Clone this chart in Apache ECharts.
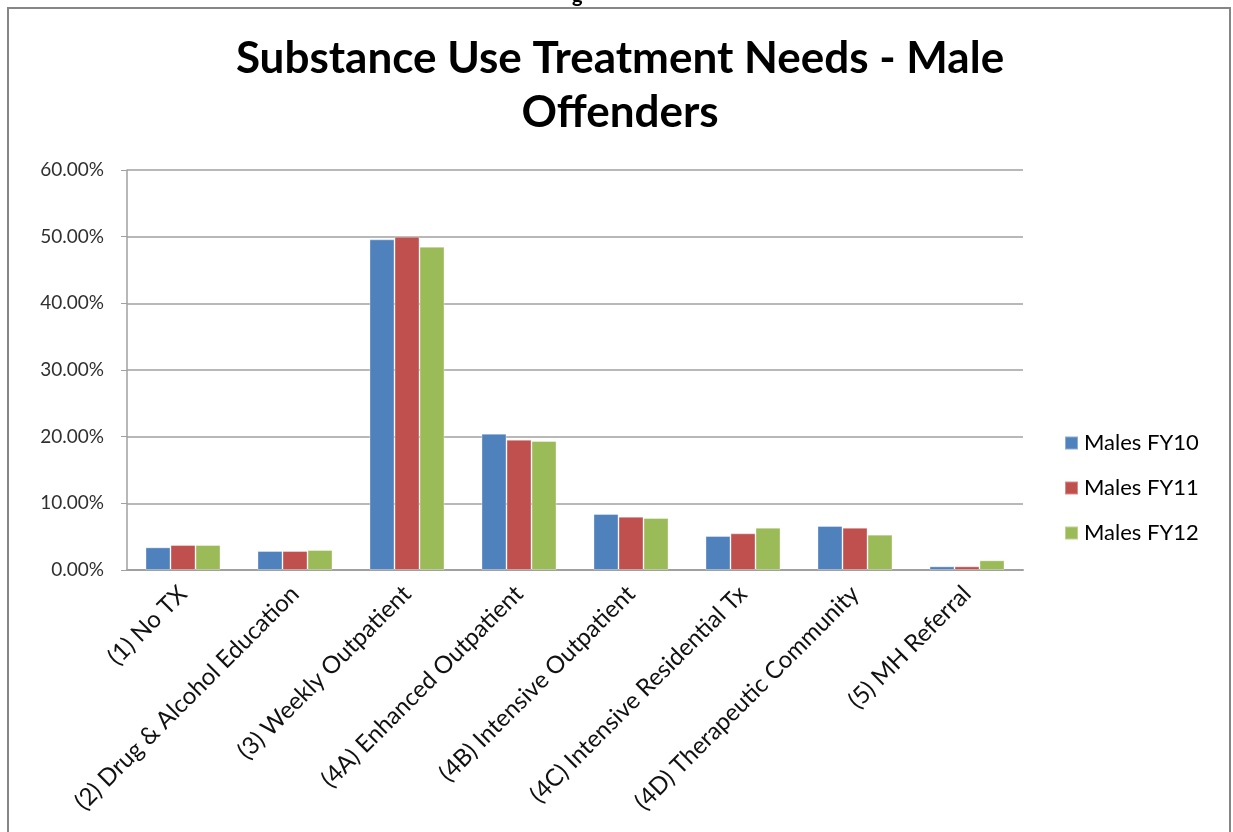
<!DOCTYPE html>
<html>
<head>
<meta charset="utf-8">
<script src="https://cdn.jsdelivr.net/npm/echarts@6/dist/echarts.min.js"></script>
<style>
  html, body { margin: 0; padding: 0; background: #fff; }
  #chart { width: 1233px; height: 832px; }
</style>
</head>
<body>
<div id="chart"></div>
<script>
// Treatment need categories
const categories = [
  '(1) No TX',
  '(2) Drug & Alcohol Education',
  '(3) Weekly Outpatient',
  '(4A) Enhanced Outpatient',
  '(4B) Intensive Outpatient',
  '(4C) Intensive Residential Tx',
  '(4D) Therapeutic Community',
  '(5) MH Referral'
];

// Share of male offenders per need level (percent)
const malesFY10 = [3.4, 2.85, 49.6, 20.45, 8.4, 5.1, 6.6, 0.55];
const malesFY11 = [3.75, 2.85, 50.0, 19.55, 8.0, 5.5, 6.35, 0.55];
const malesFY12 = [3.75, 3.0, 48.5, 19.35, 7.8, 6.35, 5.3, 1.45];

const seriesNames = ['Males FY10', 'Males FY11', 'Males FY12'];
const seriesColors = ['#4F81BD', '#C0504D', '#9BBB59'];
const yTicks = { min: 0, max: 60, interval: 10 };

const FONT = 'Lato, "Open Sans", sans-serif';

const chart = echarts.init(document.getElementById('chart'), null, { renderer: 'canvas' });

const seriesData = [malesFY10, malesFY11, malesFY12];

chart.setOption({
  backgroundColor: '#ffffff',
  animation: false,
  title: {
    text: 'Substance Use Treatment Needs - Male\nOffenders',
    left: 620,
    textAlign: 'center',
    top: 32,
    padding: 0,
    textStyle: {
      fontFamily: FONT,
      fontSize: 44,
      fontWeight: 'bold',
      color: '#000000',
      lineHeight: 54
    }
  },
  legend: {
    orient: 'vertical',
    left: 1064,
    top: 430,
    padding: 0,
    itemWidth: 13,
    itemHeight: 13,
    itemGap: 19,
    icon: 'rect',
    textStyle: { fontFamily: FONT, fontSize: 22, lineHeight: 26, color: '#000000', padding: [0, 0, 0, 1] },
    data: seriesNames
  },
  grid: { left: 127, right: 210, top: 170, bottom: 262, containLabel: false },
  xAxis: {
    type: 'category',
    data: categories,
    axisLine: { lineStyle: { color: '#a0a0a0', width: 2 } },
    axisTick: { show: false },
    axisLabel: {
      rotate: 45,
      interval: 0,
      fontFamily: FONT,
      fontSize: 24,
      color: '#111111',
      margin: 20
    }
  },
  yAxis: {
    type: 'value',
    min: yTicks.min,
    max: yTicks.max,
    interval: yTicks.interval,
    axisLine: { show: true, lineStyle: { color: '#a0a0a0', width: 1.5 } },
    axisTick: { show: true, length: 6, inside: false, lineStyle: { color: '#a0a0a0' } },
    splitLine: { lineStyle: { color: '#a0a0a0', width: 1.5 } },
    axisLabel: {
      fontFamily: FONT,
      fontSize: 19,
      color: '#303030',
      margin: 23,
      formatter: v => v.toFixed(2) + '%'
    }
  },
  series: seriesData.map((d, i) => ({
    name: seriesNames[i],
    type: 'bar',
    data: d,
    barGap: '0%',
    barCategoryGap: '33%',
    itemStyle: { color: seriesColors[i], borderColor: 'rgba(255,255,255,0.35)', borderWidth: 1 }
  })),
  graphic: [
    {
      type: 'rect',
      shape: { x: 8, y: 8, width: 1222, height: 840 },
      style: { fill: 'none', stroke: '#868686', lineWidth: 2 },
      silent: true
    },
    {
      type: 'text',
      left: 572,
      top: -14,
      style: { text: 'g', fontFamily: FONT, fontSize: 20, fontWeight: 'bold', fill: '#000' },
      silent: true
    }
  ]
});
</script>
</body>
</html>
